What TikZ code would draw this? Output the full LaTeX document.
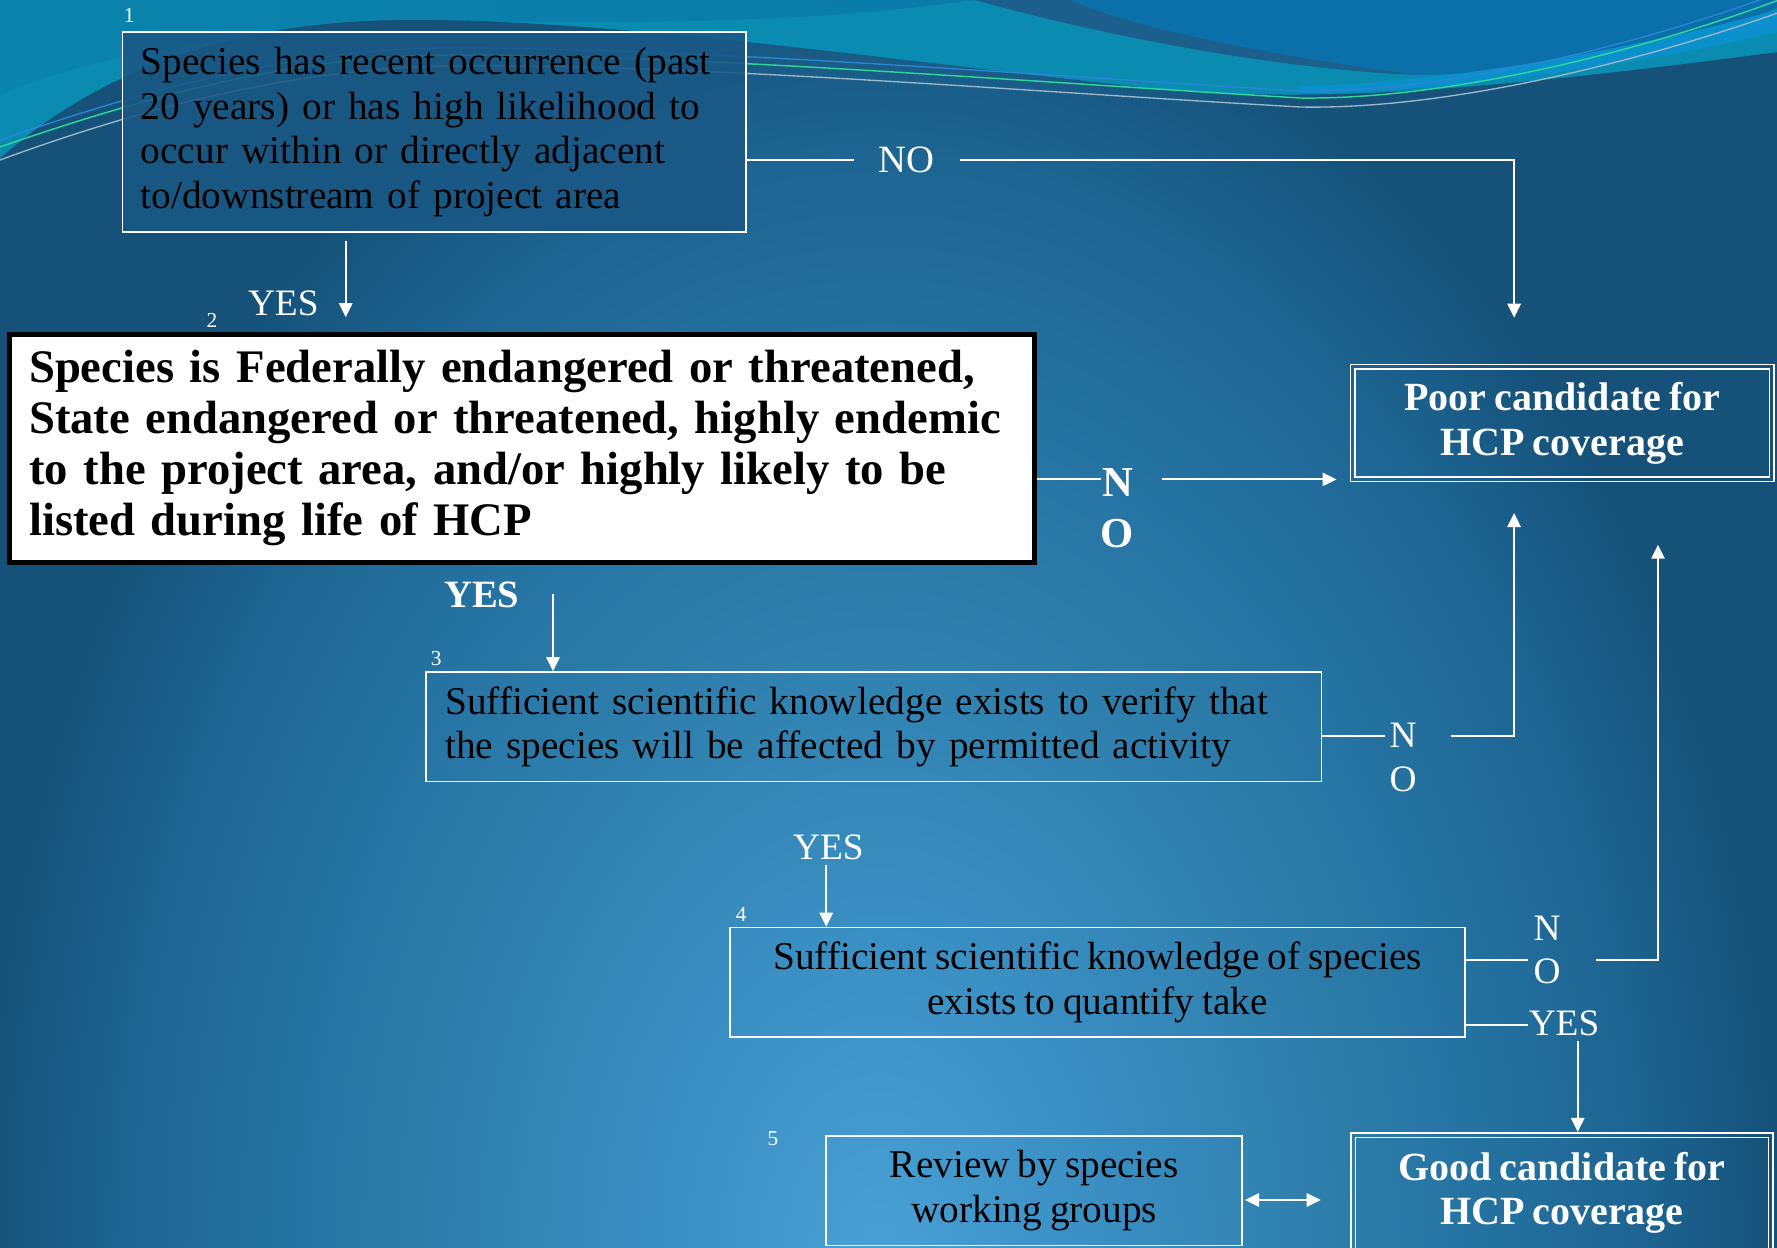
\documentclass[tikz,border=0pt]{standalone}
\usepackage{fontspec}
\setmainfont{Liberation Serif}[WordSpace=0.8]
\usetikzlibrary{arrows.meta}

% background glow and header waves
\definecolor{glowA}{HTML}{48A0D4}
\definecolor{glowB}{HTML}{3A8FC3}
\definecolor{glowC}{HTML}{2F80AE}
\definecolor{glowD}{HTML}{23709F}
\definecolor{glowE}{HTML}{1D6592}
\definecolor{glowF}{HTML}{155179}
\definecolor{skyLeft}{HTML}{0A84AC}
\definecolor{skyBlue}{HTML}{0B74A8}
\definecolor{skyTeal}{HTML}{0A8CB1}
\definecolor{ribbon}{HTML}{1B5F8C}
\definecolor{topBlue}{HTML}{0B6FAA}
\definecolor{cyanBand}{HTML}{0A90CA}
\definecolor{lineGreen}{HTML}{2FD69A}
\definecolor{lineGrey}{HTML}{9CB9CC}
\definecolor{lineBlue}{HTML}{2A86D6}
\definecolor{panel}{HTML}{1A5885}

\pgfdeclareradialshading{glow}{\pgfpointorigin}{color(0bp)=(glowA); color(12bp)=(glowB); color(23.5bp)=(glowC); color(35bp)=(glowD); color(42bp)=(glowE); color(50bp)=(glowF)}

\newcommand\bodyfont{\fontsize{29.5}{33.5}\selectfont}
\newcommand\headfont{\fontsize{35}{38.25}\selectfont\bfseries}
\newcommand\verdictfont{\fontsize{30}{33.5}\selectfont\bfseries}
\newcommand\tagfont{\fontsize{28}{33}\selectfont}
\newcommand\numfont{\fontsize{16}{16}\selectfont}

\begin{document}
\begin{tikzpicture}[x=0.75pt,y=-0.75pt,
  qbox/.style={draw=white, line width=1.3pt, inner sep=0pt, font=\bodyfont, text=black},
  verdict/.style={draw=white, line width=1.2pt, inner sep=0pt, font=\verdictfont, text=white, align=center},
  link/.style={draw=white, line width=1.5pt},
  endtip/.style={-{Triangle[length=10.5pt,width=10pt]}},
  bothtips/.style={{Triangle[length=10.5pt,width=10pt]}-{Triangle[length=10.5pt,width=10pt]}},
  lbl/.style={text=white, inner sep=0pt, font=\tagfont},
  num/.style={text=white, inner sep=0pt, font=\numfont}]

\useasboundingbox (0,0) rectangle (1777,1248);

% ---------- background ----------
\begin{scope}
  \clip (0,0) rectangle (1777,1248);
  \fill[glowF] (0,0) rectangle (1777,1248);
  % elliptical glow centred low in the middle: 900 wide, 1300 tall (radius)
  \begin{pgfscope}
    \pgftransformshift{\pgfpointxy{880}{1248}}
    \pgftransformxscale{13.45}
    \pgftransformyscale{19.43}
    \pgflowlevelsynccm
    \pgfuseshading{glow}
  \end{pgfscope}

  % header waves
  \begin{scope}
    \clip (0,0) -- (0,158) .. controls (100,70) and (230,22) .. (400,20)
      .. controls (600,18) and (850,55) .. (1150,88)
      .. controls (1300,102) and (1450,95) .. (1777,52) -- (1777,0) -- cycle;
    \shade[left color=skyLeft, right color=skyBlue] (0,0) rectangle (1777,200);
    \fill[skyTeal] (0,95) .. controls (150,30) and (400,20) .. (600,22)
      .. controls (800,22) and (900,10) .. (975,0)
      .. controls (1100,35) and (1280,70) .. (1420,75)
      .. controls (1560,72) and (1700,40) .. (1777,8) -- (1777,200) -- (0,200) -- cycle;
    \fill[ribbon] (975,0) .. controls (1100,35) and (1280,70) .. (1420,75)
      .. controls (1270,55) and (1140,30) .. (1070,0) -- cycle;
    \fill[topBlue] (1070,0) .. controls (1140,30) and (1270,55) .. (1420,75)
      .. controls (1560,72) and (1700,40) .. (1777,8) -- (1777,0) -- cycle;
    \fill[cyanBand] (1300,86) .. controls (1450,84) and (1650,45) .. (1777,10)
      -- (1777,32) .. controls (1650,62) and (1450,93) .. (1300,93) -- cycle;
  \end{scope}
  \draw[lineBlue, line width=1pt] (0,140) .. controls (150,88) and (300,48) .. (450,48)
    .. controls (700,48) and (1000,73) .. (1300,91) .. controls (1450,93) and (1650,43) .. (1800,-15);
  \draw[lineGreen, line width=1.1pt] (0,147) .. controls (150,95) and (300,55) .. (450,55)
    .. controls (700,55) and (1000,80) .. (1300,98) .. controls (1450,100) and (1650,50) .. (1800,-8);
  \draw[lineGrey, line width=1pt] (0,160) .. controls (150,105) and (300,68) .. (450,66)
    .. controls (700,64) and (1000,90) .. (1300,107) .. controls (1450,110) and (1650,60) .. (1800,5);
\end{scope}

% ---------- guide rows and columns ----------
\coordinate (colA) at (345.7,0);
\coordinate (colB) at (1514.1,0);
\coordinate (colC) at (553,0);
\coordinate (colD) at (826.2,0);
\coordinate (colE) at (1658,0);
\coordinate (colF) at (1577.7,0);
\coordinate (rowA) at (0,159.8);
\coordinate (rowB) at (0,479.4);
\coordinate (rowC) at (0,735.5);
\coordinate (rowD) at (0,960);
\coordinate (rowE) at (0,1024.5);
\coordinate (rowF) at (0,1200);

% ---------- decision boxes ----------
\node[qbox, fill=panel, fill opacity=0.88, text opacity=1,
      minimum width=467.5pt, minimum height=150.5pt, text width=440pt, align=left]
  (q1) at (434.1,132)
  {Species has recent occurrence (past\\20 years) or has high likelihood to\\occur within or directly adjacent\\to/downstream of project area};

\node[draw=black, line width=3.6pt, fill=white, inner sep=0pt, font=\headfont, text=black,
      minimum width=769.2pt, minimum height=170.9pt, text width=739.2pt, align=left]
  (q2) at (521.9,448.2)
  {Species is Federally endangered or threatened,\\State endangered or threatened, highly endemic\\to the project area, and/or highly likely to be\\listed during life of HCP};

\node[qbox, minimum width=671.5pt, minimum height=82.1pt, text width=643pt, align=left]
  (q3) at (873.8,726.8)
  {Sufficient scientific knowledge exists to verify that\\the species will be affected by permitted activity};

\node[qbox, minimum width=551.6pt, minimum height=82.1pt, align=center]
  (q4) at (1097.6,982.3)
  {Sufficient scientific knowledge of species\\exists to quantify take};

\node[qbox, minimum width=311.9pt, minimum height=82.1pt, align=center]
  (rev) at (1034.2,1190.8)
  {Review by species\\working groups};

% ---------- outcome boxes (double frame) ----------
\node[verdict, minimum width=317.8pt, minimum height=88pt] (poor) at (1562.2,423)
  {Poor candidate for\\HCP coverage};
\draw[white, line width=1.2pt] ([shift={(5.5,5.5)}]poor.north west) rectangle ([shift={(-5.5,-5.5)}]poor.south east);

\node[verdict, minimum width=316.7pt, minimum height=90.2pt] (good) at (1561.9,1192.9)
  {Good candidate for\\HCP coverage};
\draw[white, line width=1.2pt] ([shift={(5.5,5.5)}]good.north west) rectangle ([shift={(-5.5,-5.5)}]good.south east);

% ---------- step numbers ----------
\node[num] (n1) at (129.2,15.9) {1};
\node[num] (n2) at (212,320.7) {2};
\node[num] (n3) at (436.3,658.5) {3};
\node[num] (n4) at (741.2,914.6) {4};
\node[num] (n5) at (772.9,1139) {5};

% ---------- branch labels ----------
\node[lbl] (yes1) at (283.3,303.7) {YES};
\node[lbl, font=\fontsize{29}{33}\selectfont, inner xsep=18.75pt] (no1) at (906.7,159.8) {NO};
\node[lbl, font=\fontsize{32}{38.25}\selectfont\bfseries, align=center] (no2) at (1117.4,508.3) {N\\O};
\node[lbl, font=\fontsize{29}{33}\selectfont\bfseries] (yes2) at (481.7,595) {YES};
\node[lbl, font=\fontsize{28}{33}\selectfont, align=center, inner xsep=3.4pt] (no3) at (1403,757.6) {N\\O};
\node[lbl] (yes3) at (828.4,847.7) {YES};
\node[lbl, font=\fontsize{28}{32.25}\selectfont, align=center, inner xsep=4.3pt] (no4) at (1547,949.7) {N\\O};
\node[lbl] (yes4) at (1564,1023.4) {YES};

% ---------- connectors ----------
\draw[link, endtip, shorten <=6pt, shorten >=11pt] (q1.south -| colA) -- (q2.north -| colA);
\draw[link] (q1.east |- rowA) -- (no1.west);
\draw[link, endtip, shorten >=34.4pt] (no1.east) -| (poor.north -| colB);

\draw[link] (q2.east |- rowB) -- (no2.west |- rowB);
\draw[link, endtip, shorten <=21pt, shorten >=9.75pt] (no2.east |- rowB) -- (poor.west |- rowB);
\draw[link, endtip, shorten <=22pt] (q2.south -| colC) -- (q3.north -| colC);

\draw[link] (q3.east |- rowC) -- (no3.west |- rowC);
\draw[link, endtip, shorten <=22pt, shorten >=23pt] (no3.east |- rowC) -| (poor.south -| colB);
\draw[link, endtip, shorten <=3.5pt] (yes3.south -| colD) -- (q4.north -| colD);

\draw[link] (q4.east |- rowD) -- (no4.west |- rowD);
\draw[link, endtip, shorten <=22pt, shorten >=46.7pt] (no4.east |- rowD) -| (poor.south -| colE);
\draw[link] (q4.east |- rowE) -- (yes4.west |- rowE);
\draw[link, endtip, shorten <=3.5pt] (yes4.south -| colF) -- (good.north -| colF);

\draw[link, bothtips, shorten <=1.5pt, shorten >=22pt] (rev.east |- rowF) -- (good.west |- rowF);
\end{tikzpicture}
\end{document}
